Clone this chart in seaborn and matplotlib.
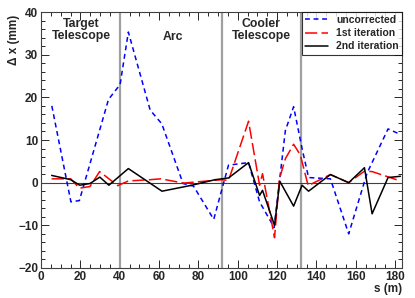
import pandas as pd
import matplotlib
matplotlib.use("Agg")
import matplotlib.pyplot as plt
from matplotlib.ticker import MultipleLocator
import seaborn as sns

# orbit deviation
s_unc = [5.5, 15.2, 19.5, 34.3, 40.2, 44.4, 55.5, 61.4, 72.2, 77.5, 87.8,
         95.3, 105.5, 111.1, 118.5, 124.2, 128.4, 132.7, 136.0, 147.1,
         156.4, 165.7, 176.4, 182.7]
dx_unc = [18.0, -4.5, -4.2, 19.5, 23.0, 35.3, 17.0, 13.8, -0.2, -0.8, -8.6,
          4.1, 4.7, -4.5, -10.5, 12.2, 17.8, 8.0, 1.2, 0.9,
          -12.0, 2.2, 12.6, 11.3]

s_1st = [5.4, 15.1, 19.5, 24.9, 29.8, 39.0, 44.4, 55.5, 61.0, 72.4, 92.0,
         95.3, 105.5, 111.1, 112.6, 118.7, 121.2, 124.2, 128.4, 131.8,
         135.8, 147.1, 156.4, 164.4, 168.3, 182.7]
dx_1st = [0.9, 0.9, -1.3, -0.9, 2.6, -0.7, 0.4, 0.7, 0.9, -0.1, 0.7,
          0.5, 14.4, -0.6, 2.1, -12.9, 0.9, 5.6, 9.0, 6.5,
          -0.7, 1.9, 0.0, 2.7, 2.6, 0.4]

s_2nd = [5.4, 15.1, 19.7, 24.9, 29.9, 34.5, 44.4, 61.5, 76.7, 88.5, 95.3,
         105.5, 111.1, 112.6, 118.7, 121.4, 128.4, 132.7, 136.0, 147.1,
         156.4, 164.4, 168.3, 176.4, 182.7]
dx_2nd = [1.7, 0.7, -0.6, -0.2, 1.3, -0.6, 3.3, -2.0, -0.6, 0.7, 1.1,
          4.7, -3.0, -1.8, -10.0, 0.3, -5.5, -0.6, -2.0, 1.9,
          0.0, 3.5, -7.3, 1.2, 1.5]

section_edges = [40, 92, 132]
section_names = ["Target\nTelescope", "Arc", "Cooler\nTelescope"]
section_pos = [(20.5, 38.5), (67, 35.5), (112, 38.5)]

sns.set_style("ticks")
plt.rcParams['font.family'] = ['Liberation Sans', 'DejaVu Sans']
plt.rcParams['font.weight'] = 'bold'

fig = plt.figure(figsize=(4.15, 2.98), dpi=100)
ax = fig.add_axes([0.0988, 0.1007, 0.8699, 0.859])

for xe in section_edges:
    ax.axvline(xe, color="#a0a0a0", lw=1.6, zorder=1)
ax.axhline(0, color="#404040", lw=0.8, zorder=1)

df_unc = pd.DataFrame({"s": s_unc, "dx": dx_unc})
df_1st = pd.DataFrame({"s": s_1st, "dx": dx_1st})
df_2nd = pd.DataFrame({"s": s_2nd, "dx": dx_2nd})

sns.lineplot(data=df_unc, x="s", y="dx", ax=ax, color="blue", lw=1.1,
             linestyle=(0, (3.2, 2.4)), label="uncorrected", zorder=3)
sns.lineplot(data=df_1st, x="s", y="dx", ax=ax, color="red", lw=1.1,
             linestyle=(0, (8, 2.8)), label="1st iteration", zorder=3)
sns.lineplot(data=df_2nd, x="s", y="dx", ax=ax, color="black", lw=1.1,
             linestyle="-", label="2nd iteration", zorder=4)

for name, (xt, yt) in zip(section_names, section_pos):
    ax.text(xt, yt, name, ha="center", va="top", fontsize=8.8,
            fontweight="bold", linespacing=0.95)

ax.set_xlim(0, 183.5)
ax.set_ylim(-20, 40)
ax.xaxis.set_major_locator(MultipleLocator(20))
ax.xaxis.set_minor_locator(MultipleLocator(5))
ax.yaxis.set_major_locator(MultipleLocator(10))
ax.yaxis.set_minor_locator(MultipleLocator(2))
ax.tick_params(which="both", direction="in", top=True, right=True,
               width=0.7, labelsize=8.5, pad=2)
ax.tick_params(which="major", length=5.8)
ax.tick_params(which="minor", length=2.9)
for sp in ax.spines.values():
    sp.set_linewidth(0.8)
    sp.set_color("#404040")

ax.set_xlabel("s (m)", loc="right", fontsize=8.5, fontweight="bold", labelpad=0)
ax.set_ylabel("Δ x (mm)", loc="top", fontsize=8.5, fontweight="bold")
ax.yaxis.set_label_coords(-0.058, 0.99)

leg = ax.legend(loc="upper right", bbox_to_anchor=(1.0, 1.0), fontsize=7.5,
                frameon=True, fancybox=False, borderaxespad=0,
                handlelength=2.2, handletextpad=0.8, labelspacing=0.3,
                borderpad=0.3)
leg.get_frame().set_edgecolor("black")
leg.get_frame().set_linewidth(0.8)
for t in leg.get_texts():
    t.set_fontweight("bold")

fig.savefig("out.png", dpi=100)
